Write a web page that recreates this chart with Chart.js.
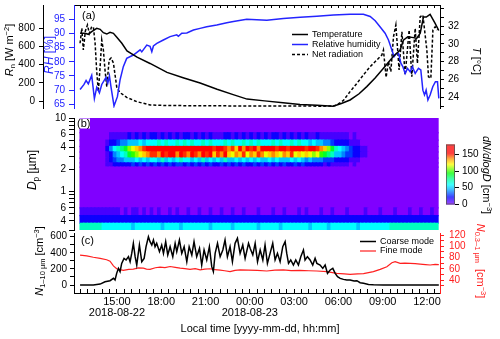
<!DOCTYPE html>
<html>
<head>
<meta charset="utf-8">
<script src="https://cdn.jsdelivr.net/npm/chart.js@4.4.1/dist/chart.umd.min.js"></script>
<style>
  html, body { margin: 0; padding: 0; background: #fff; }
  #wrap { position: relative; width: 500px; height: 339px; }
  #wrap canvas { position: absolute; left: 0; top: 0; }
</style>
</head>
<body>
<div id="wrap">
  <canvas id="chartA" width="500" height="339"></canvas>
  <canvas id="chartB" width="500" height="339"></canvas>
  <canvas id="chartC" width="500" height="339"></canvas>
</div>
<script>
// time is in hours since 2018-08-22 00:00 local time
const timeMin = 12.09;
const timeMax = 36.88;
const dateLabels = { 15: '2018-08-22', 24: '2018-08-23' };

// (a) temperature [°C]
const tempTime = [12.5, 12.84, 13.06, 13.29, 13.63, 13.86, 14.08, 14.31, 14.53, 14.76, 14.99, 15.33, 15.68, 16.36, 17.24, 18.39, 19.48, 20.63, 21.78, 22.87, 23.81, 25.0, 26.25, 27.4, 28.56, 29.64, 30.2, 30.79, 31.4, 31.92, 32.5, 33.05, 33.73, 34.18, 34.4, 34.7, 35.08, 35.3, 35.54, 35.76, 35.95, 36.21, 36.55, 36.8];
const tempVals = [31.18, 31.18, 31.07, 31.36, 31.74, 31.63, 31.25, 31.1, 31.29, 31.18, 30.73, 30.06, 29.2, 28.5, 27.8, 26.8, 26.2, 25.6, 24.9, 24.3, 23.8, 23.6, 23.4, 23.2, 23.1, 23.0, 23.3, 23.7, 24.4, 25.2, 26.2, 27.25, 28.6, 29.3, 30.4, 30.8, 30.7, 30.6, 31.2, 33.0, 33.0, 33.3, 32.3, 31.5];

// (a) relative humidity [%]
const rhTime = [12.5, 12.77, 12.91, 13.06, 13.29, 13.47, 13.63, 13.81, 13.97, 14.26, 14.38, 14.49, 14.6, 14.8, 15.03, 15.21, 15.43, 15.66, 16.11, 16.57, 16.68, 17.02, 17.24, 17.36, 17.47, 17.7, 18.14, 18.6, 19.05, 19.16, 19.39, 19.73, 20.18, 20.63, 21.08, 21.76, 22.44, 22.89, 23.79, 25.15, 26.27, 27.41, 28.54, 29.66, 30.79, 31.69, 32.15, 32.49, 32.83, 33.16, 33.39, 33.62, 33.77, 33.91, 34.07, 34.23, 34.36, 34.52, 34.68, 34.86, 35.01, 35.2, 35.42, 35.58, 35.72, 35.83, 35.94, 36.06, 36.21, 36.39, 36.57, 36.71, 36.8];
const rhVals = [70.2, 72.0, 73.4, 72.2, 75.2, 67.0, 71.0, 69.0, 72.0, 74.5, 72.5, 75.0, 71.0, 64.4, 67.7, 73.6, 78.3, 81.2, 82.4, 84.2, 83.5, 85.9, 85.5, 83.6, 85.6, 86.5, 87.7, 88.9, 89.5, 89.0, 90.1, 90.2, 91.2, 91.8, 92.4, 93.0, 93.8, 94.2, 95.0, 94.7, 95.3, 95.7, 96.1, 96.5, 96.8, 96.8, 96.0, 94.5, 92.3, 90.1, 87.7, 84.2, 81.8, 82.8, 83.0, 79.5, 78.3, 75.9, 77.7, 76.5, 78.3, 75.9, 77.7, 77.1, 70.0, 68.3, 70.0, 66.5, 68.3, 71.2, 73.0, 73.0, 67.1];

// (a) net radiation [W m-2]
const rnTime = [12.5, 12.62, 12.72, 12.86, 13.0, 13.13, 13.27, 13.4, 13.52, 13.63, 13.74, 13.86, 13.97, 14.08, 14.19, 14.31, 14.47, 14.6, 14.76, 14.99, 15.21, 15.66, 16.34, 17.24, 18.37, 20.63, 24.02, 27.4, 28.76, 29.64, 29.89, 30.34, 30.79, 31.25, 31.69, 32.15, 32.6, 32.94, 33.05, 33.23, 33.39, 33.55, 33.73, 33.89, 34.11, 34.3, 34.52, 34.79, 34.97, 35.2, 35.35, 35.54, 35.72, 35.99, 36.1, 36.26, 36.4, 36.55, 36.71];
const rnVals = [635, 800, 561, 770, 836, 744, 810, 817, 635, 323, 103, 378, 671, 561, 341, 158, 451, 473, 418, 147, 92, 40, -7, -44, -50, -52, -55, -55, -57, -55, -44, 7, 103, 194, 286, 378, 451, 506, 561, 260, 432, 323, 707, 836, 341, 762, 286, 781, 267, 800, 414, 928, 946, 561, 267, 250, 781, 817, 781];

// (b) size distribution dN/dlogD, bin edges in µm
const binEdges = [0.3, 0.37, 0.47, 0.6, 2.15, 2.45, 2.85, 3.45, 4.1, 5.0, 6.3, 10];
const colStart = 12.5;
const colStep = 0.25;
// one string per bin, one character per 15-min column, base-36 digit x 10 cm-3
const binRows = [
  '7777776666' + '6666566666' + '6656666566' + '6666656666' + '6566666656' + '6666566666' + '6656666566' + '6666656666' + '6666777777' + '7777777',
  '2222222222' + '2222222222' + '2222222222' + '2222222222' + '2222222222' + '2222222222' + '2222222222' + '2222222222' + '2222222222' + '2222222',
  '1111111111' + '1010110101' + '0100101001' + '0010010010' + '0100100010' + '0010010001' + '0100010010' + '0010000100' + '0100010001' + '0010010',
  '0000000000' + '0000000000' + '0000000000' + '0000000000' + '0000000000' + '0000000000' + '0000000000' + '0000000000' + '0000000000' + '0000000',
  '0000000112' + '2222323232' + '3232323323' + '2323232232' + '3232322323' + '2323232232' + '3222221211' + '1110100000' + '0000000000' + '0000000',
  '0000000123' + '4455565656' + '6575656766' + '5657565657' + '5565656565' + '5656555656' + '5454443332' + '2221110000' + '0000000000' + '0000000',
  '0000000124' + '5679abcdef' + 'fegfhgegfe' + 'gfegfhdfeg' + 'dcedfcedfe' + 'cdedcedfcd' + 'cdcbca9875' + '5433221100' + '0000000000' + '0000000',
  '0000000246' + '789bcdefgh' + 'ghhihghihg' + 'hihghgfhgf' + 'efdgehfgeg' + 'ghgfhgfhgh' + 'gfhgfedb97' + '6543221100' + '0000000000' + '0000000',
  '0000000122' + '3445556566' + '6767667676' + '7667676667' + '6766767676' + '6676766767' + '6656554432' + '2221110000' + '0000000000' + '0000000',
  '0000000011' + '1112121212' + '2121212122' + '1212121112' + '2121212121' + '2122121212' + '1211211111' + '1110100000' + '0000000000' + '0000000',
  '0000000000' + '0000000000' + '0000000000' + '0000000000' + '0000000000' + '0000000000' + '0000000000' + '0000000000' + '0000000000' + '0000000'
];
const dpLabels = { 10: '10', 6: '6', 4: '4', 2: '2', 1: '1', 0.6: '6', 0.4: '4' };
const cbarMax = 183;
const cbarTicks = [0, 50, 100, 150];

// (c) coarse mode N 1-10 µm [cm-3]
const coarseTime = [12.5, 13.4, 13.86, 14.19, 14.53, 14.76, 14.87, 14.98, 15.1, 15.21, 15.32, 15.48, 15.62, 15.78, 15.89, 16.0, 16.11, 16.23, 16.34, 16.52, 16.68, 16.84, 16.97, 17.13, 17.24, 17.36, 17.47, 17.58, 17.69, 17.88, 18.03, 18.15, 18.3, 18.44, 18.6, 18.78, 18.94, 19.05, 19.23, 19.39, 19.55, 19.73, 19.89, 20.07, 20.22, 20.4, 20.59, 20.74, 20.9, 21.08, 21.26, 21.42, 21.53, 21.65, 21.81, 21.99, 22.17, 22.32, 22.48, 22.66, 22.82, 23.0, 23.16, 23.34, 23.52, 23.68, 23.91, 24.02, 24.2, 24.36, 24.52, 24.7, 24.88, 25.03, 25.19, 25.37, 25.55, 25.71, 25.87, 26.05, 26.23, 26.39, 26.5, 26.62, 26.77, 26.95, 27.11, 27.29, 27.45, 27.63, 27.74, 27.9, 28.08, 28.26, 28.42, 28.54, 28.76, 28.94, 29.1, 29.26, 29.44, 29.62, 29.78, 29.94, 30.12, 30.34, 30.57, 30.79, 31.06, 31.25, 31.47, 31.7, 32.04, 32.37, 33.05, 36.8];
const coarseVals = [0, 0, 12, 41, 54, 83, 62, 145, 207, 166, 269, 331, 311, 352, 290, 393, 518, 352, 248, 497, 290, 331, 476, 600, 538, 497, 559, 476, 518, 414, 497, 393, 538, 373, 476, 352, 518, 414, 559, 393, 476, 290, 476, 373, 538, 352, 456, 248, 435, 311, 476, 228, 166, 393, 518, 352, 435, 559, 352, 476, 290, 518, 580, 393, 497, 331, 518, 456, 373, 518, 290, 435, 311, 497, 269, 393, 518, 311, 393, 290, 476, 538, 393, 269, 311, 248, 311, 248, 352, 435, 311, 352, 311, 248, 331, 269, 248, 207, 248, 145, 187, 207, 145, 104, 83, 70, 62, 62, 50, 54, 29, 21, 8, 4, 0, 0];

// (c) fine mode N 0.3-1 µm [cm-3]
const fineTime = [12.5, 12.95, 13.4, 13.86, 14.3, 14.53, 14.76, 14.98, 15.2, 15.43, 15.8, 16.11, 16.45, 16.79, 17.0, 17.24, 17.6, 17.92, 18.25, 18.6, 18.95, 19.28, 19.6, 19.95, 20.3, 20.63, 20.95, 21.31, 21.65, 21.99, 22.3, 22.66, 23.0, 23.34, 23.9, 24.5, 25.15, 25.7, 26.27, 26.8, 27.4, 28.0, 28.54, 29.21, 29.89, 30.4, 30.79, 31.3, 31.7, 32.37, 32.83, 33.28, 33.62, 33.84, 34.18, 34.5, 34.86, 35.2, 35.53, 35.9, 36.21, 36.55, 36.8];
const fineVals = [84.4, 82.8, 80.5, 78.5, 76.0, 73.5, 65.0, 60.0, 58.5, 57.0, 58.8, 59.5, 61.5, 61.0, 59.5, 59.0, 61.8, 63.0, 62.0, 64.0, 62.5, 61.0, 60.2, 59.0, 60.3, 58.0, 59.5, 60.0, 58.3, 57.5, 56.5, 55.0, 57.0, 58.0, 57.5, 57.0, 56.0, 57.5, 58.0, 56.8, 57.0, 56.5, 56.0, 54.8, 51.9, 51.0, 50.1, 50.8, 51.5, 54.8, 59.0, 63.7, 70.8, 72.6, 69.6, 70.2, 69.6, 69.0, 68.4, 67.5, 66.7, 67.9, 67.5];

const FONT = '"Liberation Sans", Arial, Helvetica, sans-serif';
const BLUE = '#2424ff';
const RED = '#ff2020';
Chart.defaults.font.family = FONT;
Chart.defaults.font.size = 10;
Chart.defaults.color = '#000';

function pts(xs, ys) {
    return xs.map((x, i) => ({ x: x, y: ys[i] }));
}

function tickList(values) {
    return s => { s.ticks = values.map(v => ({ value: v })); };
}

function fixWidth(w) {
    return s => { s.width = w; s.paddingTop = 0; s.paddingBottom = 0; };
}

function fixHeight(h) {
    return s => { s.height = h; s.paddingLeft = 0; s.paddingRight = 0; };
}

const halfHours = [];
for (let h = 12.5; h <= 36.5; h += 0.5) halfHours.push(h);

function timeLabel(v) {
    const h = Math.round(v * 2) / 2;
    if (h % 3 !== 0) return '';
    const txt = String(h % 24).padStart(2, '0') + ':00';
    return dateLabels[h] ? [txt, dateLabels[h]] : txt;
}

// colour scale for dN/dlogD
const cmapStops = [
    [0, [128, 0, 255]], [22, [0, 0, 255]], [45, [0, 170, 255]], [60, [0, 255, 255]],
    [80, [0, 255, 128]], [95, [0, 255, 0]], [122, [255, 255, 0]], [140, [255, 140, 0]],
    [155, [255, 0, 0]], [183, [255, 0, 0]]
];

function cmap(v) {
    if (v <= cmapStops[0][0]) return 'rgb(' + cmapStops[0][1].join(',') + ')';
    for (let k = 1; k < cmapStops.length; k++) {
        const [v1, c1] = cmapStops[k];
        if (v <= v1) {
            const [v0, c0] = cmapStops[k - 1];
            const f = (v - v0) / (v1 - v0);
            return 'rgb(' + c0.map((c, j) => Math.round(c + (c1[j] - c) * f)).join(',') + ')';
        }
    }
    return 'rgb(' + cmapStops[cmapStops.length - 1][1].join(',') + ')';
}

// text with italic / sub / superscript runs, centred on (x, y)
function drawRich(ctx, runs, x, y, opts) {
    const size = opts.size || 11;
    const fontFor = r => (r.i ? 'italic ' : '') + ((r.sub || r.sup) ? size * 0.68 : size) + 'px ' + FONT;
    ctx.save();
    ctx.translate(x, y);
    ctx.rotate(opts.rot || 0);
    ctx.fillStyle = opts.color || '#000';
    ctx.textBaseline = 'alphabetic';
    ctx.textAlign = 'left';
    let total = 0;
    runs.forEach(r => { ctx.font = fontFor(r); r.w = ctx.measureText(r.t).width; total += r.w; });
    let cx = opts.align === 'left' ? 0 : -total / 2;
    runs.forEach(r => {
        ctx.font = fontFor(r);
        let dy = size * 0.36;
        if (r.sub) dy += size * 0.22;
        if (r.sup) dy -= size * 0.38;
        ctx.fillText(r.t, cx, dy);
        cx += r.w;
    });
    ctx.restore();
}

function drawLegend(ctx, sets, x0, x1, tx, y0, dy) {
    ctx.save();
    ctx.font = '9px ' + FONT;
    ctx.textBaseline = 'middle';
    ctx.fillStyle = '#000';
    sets.forEach((d, k) => {
        const y = y0 + k * dy;
        ctx.strokeStyle = d.borderColor;
        ctx.lineWidth = d.borderWidth;
        ctx.setLineDash(d.borderDash || []);
        ctx.beginPath();
        ctx.moveTo(x0, y);
        ctx.lineTo(x1, y);
        ctx.stroke();
        ctx.fillText(d.label, tx, y);
    });
    ctx.restore();
}

function yAxis(o) {
    return {
        type: o.type || 'linear',
        position: o.pos,
        weight: o.weight || 0,
        min: o.min,
        max: o.max,
        bounds: 'data',
        afterBuildTicks: tickList(o.ticks),
        afterFit: fixWidth(o.width),
        ticks: { color: o.color, padding: o.pad, autoSkip: false, font: { size: 10 }, callback: o.label },
        grid: { drawOnChartArea: false, tickLength: o.tl, color: o.color },
        border: { color: o.color }
    };
}

const baseOptions = {
    responsive: false,
    animation: false,
    events: [],
    plugins: { legend: { display: false }, tooltip: { enabled: false } },
    elements: { point: { radius: 0 }, line: { tension: 0 } }
};

// Panel (a)
new Chart(document.getElementById('chartA'), {
    type: 'line',
    data: {
        datasets: [
            { label: 'Temperature', data: pts(tempTime, tempVals), yAxisID: 'yT', borderColor: '#000', borderWidth: 1.5 },
            { label: 'Relative humidity', data: pts(rhTime, rhVals), yAxisID: 'yRH', borderColor: BLUE, borderWidth: 1.5 },
            { label: 'Net radiation', data: pts(rnTime, rnVals), yAxisID: 'yRn', borderColor: '#000', borderWidth: 1.5, borderDash: [3, 2] }
        ]
    },
    options: {
        ...baseOptions,
        layout: { padding: { top: 0, left: 0, right: 0, bottom: 231 } },
        scales: {
            x: {
                type: 'linear', position: 'top', min: timeMin, max: timeMax, bounds: 'data',
                afterBuildTicks: tickList(halfHours),
                afterFit: fixHeight(5),
                ticks: { display: false },
                grid: { drawOnChartArea: false, tickLength: -3, color: '#000' },
                border: { color: '#000' }
            },
            yRn: yAxis({ pos: 'left', weight: 1, min: -77, max: 1056, ticks: [0, 200, 400, 600, 800], width: 43, tl: 4, pad: 4, color: '#000', label: v => String(v) }),
            yRH: yAxis({ pos: 'left', weight: 0, min: 63.69, max: 100.05, ticks: [65, 70, 75, 80, 85, 90, 95], width: 31, tl: 5, pad: 4, color: BLUE, label: v => String(v) }),
            yT: yAxis({ pos: 'right', min: 22.8, max: 34.36, ticks: [23, 24, 25, 26, 27, 28, 29, 30, 31, 32, 33, 34], width: 60, tl: 4, pad: 4, color: '#000', label: v => (v % 2 === 0 && v <= 32) ? String(v) : '' })
        }
    },
    plugins: [{
        id: 'decorA',
        afterDraw(chart) {
            const ctx = chart.ctx;
            drawRich(ctx, [{ t: 'R', i: 1 }, { t: 'n', sub: 1 }, { t: ' [W m' }, { t: '−2', sup: 1 }, { t: ']' }], 9, 50, { size: 11, rot: -Math.PI / 2 });
            drawRich(ctx, [{ t: 'RH', i: 1 }, { t: ' [%]' }], 49, 55, { size: 12, rot: -Math.PI / 2, color: BLUE });
            drawRich(ctx, [{ t: 'T', i: 1 }, { t: ' [°C]' }], 477, 61, { size: 11, rot: Math.PI / 2 });
            drawRich(ctx, [{ t: '(a)' }], 82, 15, { size: 11, align: 'left' });
            drawLegend(ctx, chart.data.datasets, 292, 308, 312, 34.5, 10);
        }
    }]
});

// Panel (b)
const heatSets = binRows.map((row, b) => ({
    label: binEdges[b] + '–' + binEdges[b + 1] + ' µm',
    data: row.split('').map((ch, i) => ({ x: colStart + (i + 0.5) * colStep, y: [binEdges[b], binEdges[b + 1]] })),
    backgroundColor: row.split('').map(ch => cmap(parseInt(ch, 36) * 10)),
    borderWidth: 0,
    inflateAmount: 0.6,
    grouped: false,
    barPercentage: 1,
    categoryPercentage: 1
}));

new Chart(document.getElementById('chartB'), {
    type: 'bar',
    data: { datasets: heatSets },
    options: {
        ...baseOptions,
        layout: { padding: { top: 118, left: 0, right: 60, bottom: 109 } },
        scales: {
            x: {
                type: 'linear', display: false, offset: false, min: timeMin, max: timeMax, bounds: 'data',
                afterBuildTicks: tickList([15, 18, 21, 24, 27, 30, 33, 36])
            },
            y: yAxis({
                type: 'logarithmic', pos: 'left', min: 0.3, max: 10,
                ticks: [0.3, 0.4, 0.5, 0.6, 0.7, 0.8, 0.9, 1, 2, 3, 4, 5, 6, 7, 8, 9, 10],
                width: 74, tl: 5, pad: 3, color: '#000',
                label: v => dpLabels[Math.round(v * 10) / 10] || ''
            })
        }
    },
    plugins: [{
        id: 'decorB',
        afterDraw(chart) {
            const ctx = chart.ctx;
            ctx.save();
            ctx.fillStyle = '#fff';
            ctx.fillRect(76, 118.5, 14, 10);
            ctx.restore();
            drawRich(ctx, [{ t: '(b)' }], 77, 123.5, { size: 11, align: 'left' });
            drawRich(ctx, [{ t: 'D', i: 1 }, { t: 'p', sub: 1 }, { t: ' [µm]' }], 32, 170, { size: 12, rot: -Math.PI / 2 });

            // colour bar
            const x0 = 446, x1 = 455, yb = 204.5, yt = 144.5;
            for (let py = yt; py < yb; py++) {
                ctx.fillStyle = cmap((yb - py - 0.5) / (yb - yt) * cbarMax);
                ctx.fillRect(x0, py, x1 - x0, 1);
            }
            ctx.save();
            ctx.strokeStyle = '#555';
            ctx.lineWidth = 0.8;
            ctx.strokeRect(x0 + 0.5, yt + 0.5, x1 - x0 - 1, yb - yt - 1);
            ctx.strokeStyle = '#000';
            ctx.lineWidth = 1;
            ctx.font = '10px ' + FONT;
            ctx.fillStyle = '#000';
            ctx.textBaseline = 'middle';
            cbarTicks.forEach(v => {
                const y = Math.round(yb - v / cbarMax * (yb - yt)) - 0.5;
                ctx.beginPath();
                ctx.moveTo(x1, y);
                ctx.lineTo(x1 + 4, y);
                ctx.stroke();
                ctx.fillText(String(v), x1 + 7, y);
            });
            ctx.restore();
            drawRich(ctx, [{ t: 'dN/dlogD', i: 1 }, { t: ' [cm' }, { t: '−3', sup: 1 }, { t: ']' }], 487, 175, { size: 11, rot: Math.PI / 2 });
        }
    }]
});

// Panel (c)
new Chart(document.getElementById('chartC'), {
    type: 'line',
    data: {
        datasets: [
            { label: 'Coarse mode', data: pts(coarseTime, coarseVals), yAxisID: 'yC', borderColor: '#000', borderWidth: 1.5 },
            { label: 'Fine mode', data: pts(fineTime, fineVals), yAxisID: 'yF', borderColor: RED, borderWidth: 1.2 }
        ]
    },
    options: {
        ...baseOptions,
        layout: { padding: { top: 233, left: 0, right: 0, bottom: 0 } },
        scales: {
            x: {
                type: 'linear', position: 'bottom', min: timeMin, max: timeMax, bounds: 'data',
                afterBuildTicks: tickList(halfHours),
                afterFit: fixHeight(46),
                ticks: { autoSkip: false, maxRotation: 0, minRotation: 0, padding: 7, font: { size: 11, lineHeight: 1 }, callback: timeLabel },
                grid: { drawOnChartArea: false, tickLength: -4, color: '#000' },
                border: { color: '#000' }
            },
            yC: yAxis({ pos: 'left', min: -99, max: 646, ticks: [0, 100, 200, 300, 400, 500, 600], width: 74, tl: 4, pad: 3, color: '#000', label: v => v % 200 === 0 ? String(v) : '' }),
            yF: yAxis({ pos: 'right', min: 16.9, max: 123.6, ticks: [30, 40, 50, 60, 70, 80, 90, 100, 110, 120], width: 60, tl: 4, pad: 5, color: RED, label: v => (v % 20 === 0) ? String(v) : '' })
        }
    },
    plugins: [{
        id: 'decorC',
        afterDraw(chart) {
            const ctx = chart.ctx;
            drawRich(ctx, [{ t: '(c)' }], 81, 240.5, { size: 11, align: 'left' });
            drawRich(ctx, [{ t: 'N', i: 1 }, { t: '1–10 µm', sub: 1 }, { t: ' [cm' }, { t: '−3', sup: 1 }, { t: ']' }], 39, 261, { size: 11, rot: -Math.PI / 2 });
            drawRich(ctx, [{ t: 'N', i: 1 }, { t: '0.3–1 µm', sub: 1 }, { t: '  [cm' }, { t: '−3', sup: 1 }, { t: ']' }], 481, 261, { size: 11, rot: Math.PI / 2, color: RED });
            drawRich(ctx, [{ t: 'Local time [yyyy-mm-dd, hh:mm]' }], 260, 328, { size: 11 });
            drawLegend(ctx, chart.data.datasets, 360, 376, 380, 241.5, 9.5);
        }
    }]
});
</script>
</body>
</html>
